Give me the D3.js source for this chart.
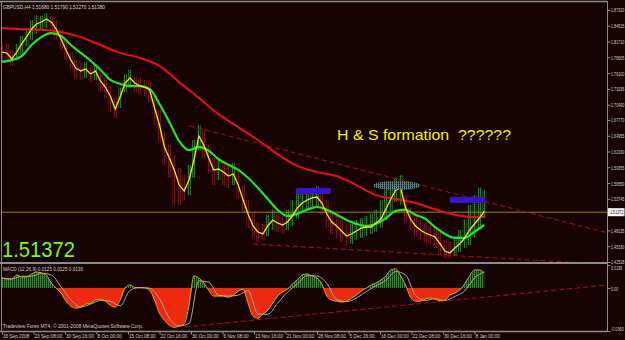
<!DOCTYPE html>
<html>
<head>
<meta charset="utf-8">
<script src="https://cdn.jsdelivr.net/npm/d3@7/dist/d3.min.js"></script>
<style>
body { margin: 0; background: #170303; overflow: hidden; }
text { font-family: "Liberation Sans", Arial, sans-serif; }
</style>
</head>
<body>
<div id="chart"></div>
<script>
// GBPUSD H4, sampled every 5 bars
var ma5 = [1.7985, 1.7968, 1.7861, 1.7985, 1.8128, 1.8252, 1.8394, 1.8483, 1.8519, 1.8572,
           1.8519, 1.8394, 1.8216, 1.8021, 1.7843, 1.7701, 1.7648, 1.7683, 1.7594, 1.7648,
           1.7470, 1.7363, 1.7203, 1.6972, 1.7185, 1.7434, 1.7523, 1.7434, 1.7381, 1.7363,
           1.7310, 1.6990, 1.6687, 1.6296, 1.6101, 1.5887, 1.5621, 1.5514, 1.5710, 1.6065,
           1.6492, 1.6332, 1.6101, 1.5887, 1.5905, 1.5852, 1.5781, 1.5816, 1.5621, 1.5354,
           1.5105, 1.4892, 1.4785, 1.4750, 1.4892, 1.4998, 1.4945, 1.4910, 1.4963, 1.5070,
           1.5212, 1.5301, 1.5354, 1.5390, 1.5407, 1.5301, 1.5105, 1.4963, 1.4892, 1.4803,
           1.4714, 1.4750, 1.4803, 1.4856, 1.4874, 1.4874, 1.4945, 1.5016, 1.5194, 1.5372,
           1.5532, 1.5567, 1.5212, 1.5016, 1.4892, 1.4821, 1.4767, 1.4732, 1.4696, 1.4572,
           1.4447, 1.4412, 1.4501, 1.4572, 1.4678, 1.4821, 1.4927, 1.5034, 1.5158];
var barHigh = [1.811, 1.813, 1.802, 1.813, 1.827, 1.841, 1.855, 1.864, 1.863, 1.868,
               1.863, 1.855, 1.838, 1.820, 1.799, 1.784, 1.779, 1.781, 1.774, 1.777,
               1.763, 1.752, 1.738, 1.717, 1.735, 1.759, 1.767, 1.756, 1.752, 1.749,
               1.745, 1.722, 1.695, 1.656, 1.633, 1.615, 1.592, 1.580, 1.598, 1.642,
               1.669, 1.660, 1.633, 1.610, 1.610, 1.603, 1.598, 1.601, 1.585, 1.562,
               1.535, 1.514, 1.496, 1.493, 1.509, 1.518, 1.514, 1.511, 1.518, 1.535,
               1.553, 1.557, 1.553, 1.557, 1.560, 1.550, 1.535, 1.518, 1.509, 1.500,
               1.491, 1.493, 1.500, 1.503, 1.507, 1.511, 1.518, 1.535, 1.553, 1.567,
               1.575, 1.580, 1.544, 1.521, 1.509, 1.500, 1.496, 1.491, 1.489, 1.479,
               1.464, 1.461, 1.471, 1.482, 1.500, 1.527, 1.544, 1.557, 1.553];
var barLow = [1.781, 1.781, 1.774, 1.784, 1.793, 1.809, 1.820, 1.831, 1.838, 1.841,
              1.834, 1.820, 1.802, 1.784, 1.767, 1.752, 1.749, 1.752, 1.745, 1.749,
              1.727, 1.717, 1.692, 1.681, 1.699, 1.727, 1.735, 1.727, 1.724, 1.720,
              1.710, 1.669, 1.639, 1.598, 1.575, 1.527, 1.527, 1.535, 1.544, 1.575,
              1.624, 1.610, 1.585, 1.562, 1.571, 1.562, 1.557, 1.562, 1.539, 1.514,
              1.486, 1.468, 1.461, 1.464, 1.471, 1.482, 1.479, 1.475, 1.482, 1.489,
              1.503, 1.514, 1.518, 1.521, 1.521, 1.509, 1.486, 1.475, 1.468, 1.461,
              1.454, 1.457, 1.464, 1.468, 1.471, 1.475, 1.479, 1.486, 1.500, 1.514,
              1.532, 1.527, 1.496, 1.482, 1.471, 1.464, 1.461, 1.455, 1.450, 1.438,
              1.432, 1.432, 1.436, 1.443, 1.450, 1.455, 1.468, 1.482, 1.503];
// every 10 bars
var ma50 = [1.781, 1.784, 1.791, 1.811, 1.825, 1.832, 1.827, 1.811, 1.797, 1.783,
            1.767, 1.749, 1.742, 1.738, 1.738, 1.733, 1.706, 1.674, 1.640, 1.624,
            1.630, 1.623, 1.608, 1.598, 1.589, 1.575, 1.557, 1.537, 1.518, 1.507,
            1.511, 1.518, 1.523, 1.518, 1.509, 1.500, 1.493, 1.489, 1.493, 1.503,
            1.516, 1.518, 1.509, 1.502, 1.487, 1.475, 1.468, 1.468, 1.479, 1.491];
// every 20 bars
var ma200 = [1.841, 1.839, 1.838, 1.834, 1.825, 1.811, 1.797, 1.788, 1.774, 1.745,
             1.717, 1.688, 1.665, 1.642, 1.617, 1.596, 1.585, 1.578, 1.562, 1.544,
             1.537, 1.530, 1.519, 1.509, 1.505, 1.505];
// MACD every 5 bars, signal every 10 bars
var macd = [0.0085, 0.0077, 0.0077, 0.0111, 0.0094, 0.0094, 0.0119, 0.0136, 0.0128, 0.0111,
            0.0043, 0.0000, -0.0043, -0.0111, -0.0153, -0.0170, -0.0162, -0.0136, -0.0128, -0.0102,
            -0.0094, -0.0111, -0.0145, -0.0162, -0.0102, 0.0000, 0.0026, 0.0004, 0.0002, 0.0001,
            -0.0017, -0.0102, -0.0213, -0.0272, -0.0315, -0.0332, -0.0323, -0.0306, -0.0145, 0.0102,
            0.0085, 0.0043, -0.0017, -0.0068, -0.0068, -0.0068, -0.0077, -0.0060, -0.0026, -0.0009,
            -0.0128, -0.0238, -0.0255, -0.0221, -0.0187, -0.0128, -0.0068, -0.0034, -0.0009, 0.0034,
            0.0068, 0.0111, 0.0119, 0.0102, 0.0085, 0.0034, -0.0068, -0.0102, -0.0111, -0.0119,
            -0.0111, -0.0085, -0.0060, -0.0026, 0.0000, 0.0026, 0.0043, 0.0068, 0.0102, 0.0153,
            0.0162, 0.0102, 0.0026, -0.0077, -0.0111, -0.0111, -0.0094, -0.0085, -0.0094, -0.0111,
            -0.0102, -0.0060, -0.0043, -0.0017, 0.0034, 0.0102, 0.0153, 0.0153, 0.0128];
var macdSignal = [0.0085, 0.0077, 0.0100, 0.0100, 0.0125, 0.0111, 0.0010, -0.0100, -0.0160, -0.0136,
                  -0.0105, -0.0111, -0.0150, -0.0020, 0.0005, 0.0000, -0.0090, -0.0255, -0.0320, -0.0300,
                  0.0060, 0.0050, -0.0060, -0.0068, -0.0060, -0.0020, -0.0220, -0.0221, -0.0128, -0.0034,
                  0.0034, 0.0105, 0.0102, 0.0040, -0.0095, -0.0115, -0.0085, -0.0030, 0.0020, 0.0065,
                  0.0140, 0.0110, -0.0060, -0.0105, -0.0090, -0.0105, -0.0070, -0.0025, 0.0085, 0.0136];

var dateLabels = ["16 Sep 2008", "23 Sep 08:00", "30 Sep 16:00", "8 Oct 00:00", "15 Oct 08:00",
                  "22 Oct 16:00", "30 Oct 00:00", "6 Nov 08:00", "13 Nov 16:00", "21 Nov 00:00",
                  "28 Nov 08:00", "5 Dec 16:00", "16 Dec 00:00", "22 Dec 08:00", "30 Dec 16:00", "8 Jan 00:00"];
var priceTicks = [1.87320, 1.84515, 1.81710, 1.78905, 1.76100, 1.73295, 1.70490, 1.67770,
                  1.64955, 1.62160, 1.59355, 1.56550, 1.53745, 1.48135, 1.45330, 1.42518];
var macdTicks = [0.0195, 0, -0.0363];
var macdTickLabels = ["0.0195", "0.00", "-0.0363"];
var quote = [1.51680, 1.51790, 1.51270, 1.51380];
var lastPrice = 1.51372;
var macdNow = [0.0125, 0.0125, 0.0136];
var lastBar = 490;

// objects drawn on the chart: [bar, price]
var trendUpper = [[191, 1.667], [615, 1.477]];
var trendLower = [[255, 1.4572], [608, 1.4216]];
var trendMacd = [[186, -0.0329], [615, 0.0026]];
var boxes = [[299, 334, 1.5568, 1.5461], [455, 491, 1.5408, 1.5301]];
var oval = [401, 1.5612, 24, 0.008];

var w = 625, h = 340;
var grey = "#8c8c8c";

var svg = d3.select("#chart").append("svg")
    .attr("width", w)
    .attr("height", h)
    .style("display", "block")
    .style("background", "#170303");

var x = d3.scaleLinear().domain([0, 32]).range([2, 33.5]);
var y = d3.scaleLinear().domain([1.42518, 1.87320]).range([262, 10]);
var ym = d3.scaleLinear().domain([-0.0363, 0.0195]).range([331, 265]);

function bars(arr, step) {
    return arr.map(function(v, i) { return [Math.min(i * step, lastBar), v]; });
}

var defs = svg.append("defs");
defs.append("clipPath").attr("id", "mainClip")
  .append("rect").attr("x", 2).attr("y", 2).attr("width", 605).attr("height", 260);
defs.append("clipPath").attr("id", "macdClip")
  .append("rect").attr("x", 2).attr("y", 264).attr("width", 605).attr("height", 67);
defs.append("clipPath").attr("id", "posClip")
  .append("rect").attr("x", 0).attr("y", 264).attr("width", 607).attr("height", ym(0) - 264);
defs.append("clipPath").attr("id", "negClip")
  .append("rect").attr("x", 0).attr("y", ym(0)).attr("width", 607).attr("height", 331 - ym(0));

function hatch(id, c1, c2) {
    var p = defs.append("pattern").attr("id", id)
      .attr("width", 2).attr("height", 2).attr("patternUnits", "userSpaceOnUse");
    p.append("rect").attr("width", 1).attr("height", 2).attr("fill", c1);
    p.append("rect").attr("x", 1).attr("width", 1).attr("height", 1).attr("fill", c2);
}
hatch("upBar", "#0f8c0f", "#073a07");
hatch("dnBar", "#8a0a0a", "#3c0303");
hatch("macdUp", "#0e9a0e", "#063806");
hatch("ovalDots", "#4f8a8e", "#284a50");

// borders
svg.append("line").attr("x1", 0).attr("x2", 607).attr("y1", 1.5).attr("y2", 1.5)
  .attr("stroke", grey).attr("stroke-width", 1.5);
svg.append("line").attr("x1", 1.5).attr("x2", 1.5).attr("y1", 1).attr("y2", 331)
  .attr("stroke", grey).attr("stroke-width", 1);
svg.append("line").attr("x1", 0).attr("x2", 607).attr("y1", 263).attr("y2", 263)
  .attr("stroke", grey).attr("stroke-width", 2);
svg.append("line").attr("x1", 0).attr("x2", 607).attr("y1", 331.5).attr("y2", 331.5)
  .attr("stroke", grey).attr("stroke-width", 1.5);
svg.append("line").attr("x1", 607.5).attr("x2", 607.5).attr("y1", 1).attr("y2", 332)
  .attr("stroke", grey).attr("stroke-width", 1);

var main = svg.append("g").attr("clip-path", "url(#mainClip)");

// price bars
main.selectAll("rect.bar").data(ma5).enter().append("rect")
  .attr("class", "bar")
  .attr("x", function(d, i) { return x(i * 5) - 1.8; })
  .attr("width", 3.6)
  .attr("y", function(d, i) { return y(barHigh[i]); })
  .attr("height", function(d, i) { return y(barLow[i]) - y(barHigh[i]); })
  .attr("fill", function(d, i) { return (i > 0 && d >= ma5[i - 1]) ? "url(#upBar)" : "url(#dnBar)"; });

// current price line
main.append("line").attr("x1", 2).attr("x2", 607)
  .attr("y1", y(lastPrice)).attr("y2", y(lastPrice))
  .attr("stroke", "#8f8a00").attr("stroke-width", 1);

// trendlines
[trendUpper, trendLower].forEach(function(t) {
    main.append("line")
      .attr("x1", x(t[0][0])).attr("y1", y(t[0][1]))
      .attr("x2", x(t[1][0])).attr("y2", y(t[1][1]))
      .attr("stroke", "#a01010").attr("stroke-width", 1)
      .attr("stroke-dasharray", "5,3");
});

var line = d3.line()
    .x(function(d) { return x(d[0]); })
    .y(function(d) { return y(d[1]); });

main.append("path").datum(bars(ma200, 20))
  .attr("d", line.curve(d3.curveMonotoneX))
  .attr("fill", "none").attr("stroke", "#e81010").attr("stroke-width", 2);
main.append("path").datum(bars(ma50, 10))
  .attr("d", line.curve(d3.curveMonotoneX))
  .attr("fill", "none").attr("stroke", "#22e622").attr("stroke-width", 2.2);
main.append("path").datum(bars(ma5, 5))
  .attr("d", line.curve(d3.curveLinear))
  .attr("fill", "none").attr("stroke", "#f0e81c").attr("stroke-width", 1.3);

// H&S objects
main.selectAll("rect.box").data(boxes).enter().append("rect")
  .attr("class", "box")
  .attr("x", function(d) { return x(d[0]); })
  .attr("width", function(d) { return x(d[1]) - x(d[0]); })
  .attr("y", function(d) { return y(d[2]); })
  .attr("height", function(d) { return y(d[3]) - y(d[2]); })
  .attr("fill", "#3514cc");
main.append("ellipse")
  .attr("cx", x(oval[0])).attr("cy", y(oval[1]))
  .attr("rx", x(oval[2]) - x(0)).attr("ry", y(oval[1] - oval[3]) - y(oval[1]))
  .attr("fill", "url(#ovalDots)");

// texts
function label(g, str, px, py, size, len, color) {
    return g.append("text").attr("x", px).attr("y", py)
      .attr("font-size", size).attr("fill", color)
      .attr("textLength", len).attr("lengthAdjust", "spacingAndGlyphs")
      .text(str);
}
label(svg, "GBPUSD,H4  " + quote.map(function(q) { return q.toFixed(5); }).join(" "),
      3, 8.5, 6, 102, "#d8d8d8");
svg.append("text").attr("x", 337).attr("y", 140)
  .attr("font-size", 15).attr("fill", "#f2f200")
  .attr("xml:space", "preserve")
  .attr("textLength", 174).attr("lengthAdjust", "spacingAndGlyphs")
  .text("H & S formation  ??????");
svg.append("text").attr("x", 2).attr("y", 257)
  .attr("font-size", 22.5).attr("fill", "#7cf81c")
  .attr("textLength", 73).attr("lengthAdjust", "spacingAndGlyphs")
  .text(lastPrice.toFixed(5));

// MACD panel
var macdPanel = svg.append("g").attr("clip-path", "url(#macdClip)");
var area = d3.area()
    .x(function(d) { return x(d[0]); })
    .y0(ym(0))
    .y1(function(d) { return ym(d[1]); });
macdPanel.append("path").datum(bars(macd, 5)).attr("d", area)
  .attr("fill", "url(#macdUp)").attr("clip-path", "url(#posClip)");
macdPanel.append("path").datum(bars(macd, 5)).attr("d", area)
  .attr("fill", "#ec2a10").attr("clip-path", "url(#negClip)");

var mline = d3.line()
    .x(function(d) { return x(d[0]); })
    .y(function(d) { return ym(d[1]); })
    .curve(d3.curveMonotoneX);
macdPanel.append("path").datum(bars(macdSignal, 10)).attr("d", mline)
  .attr("fill", "none").attr("stroke", "#a8a8a8").attr("stroke-width", 1);
macdPanel.append("path").datum(bars(macd, 5)).attr("d", mline)
  .attr("fill", "none").attr("stroke", "#d8b010").attr("stroke-width", 1);
macdPanel.append("line")
  .attr("x1", x(trendMacd[0][0])).attr("y1", ym(trendMacd[0][1]))
  .attr("x2", x(trendMacd[1][0])).attr("y2", ym(trendMacd[1][1]))
  .attr("stroke", "#a01010").attr("stroke-width", 1)
  .attr("stroke-dasharray", "5,3");

label(svg, "MACD (12,26,9) " + macdNow.map(function(v) { return v.toFixed(4); }).join(" "),
      3, 270.5, 6, 80, "#d0d0d0");
label(svg, "Tradeview Forex MT4, \u00a9 2001-2008 MetaQuotes Software Corp.",
      3, 328, 6, 140, "#d0d0d0");

// right price axis (narrow text: squeezed with a scale)
var yAxis = d3.axisRight(y).tickValues(priceTicks)
    .tickSize(3).tickFormat(d3.format(".5f"));
var ya = svg.append("g").attr("transform", "translate(607.5,0)").call(yAxis);
ya.select(".domain").remove();
ya.selectAll(".tick line").attr("stroke", grey);
ya.selectAll(".tick text")
  .attr("x", 0).attr("dy", "0.35em")
  .attr("font-size", 6).attr("fill", "#d0d0d0")
  .attr("transform", "translate(3.5,0) scale(0.62,0.92)");

// last price marker
svg.append("rect").attr("x", 608).attr("y", y(lastPrice) - 4)
  .attr("width", 16.5).attr("height", 8).attr("fill", "#ffffff");
svg.append("text")
  .attr("transform", "translate(610," + (y(lastPrice) + 2.2) + ") scale(0.62,0.92)")
  .attr("font-size", 6).attr("fill", "#000000")
  .text(lastPrice.toFixed(5));

var mAxis = d3.axisRight(ym).tickValues(macdTicks)
    .tickSize(3).tickFormat(function(d, i) { return macdTickLabels[i]; });
var ma = svg.append("g").attr("transform", "translate(607.5,0)").call(mAxis);
ma.select(".domain").remove();
ma.selectAll(".tick line").attr("stroke", grey);
ma.selectAll(".tick text")
  .attr("x", 0).attr("dy", "0.35em")
  .attr("font-size", 6).attr("fill", "#d0d0d0")
  .attr("transform", function(d) {
      var off = d === macdTicks[0] ? 3 : (d === macdTicks[2] ? -2 : 0);
      return "translate(3.5," + off + ") scale(0.62,0.92)";
  });

// time axis
var xAxis = d3.axisBottom(x).tickValues(d3.range(0, 32 * dateLabels.length, 32))
    .tickSize(3).tickFormat(function(d, i) { return dateLabels[i]; });
var xa = svg.append("g").attr("transform", "translate(0,331.5)").call(xAxis);
xa.select(".domain").remove();
xa.selectAll(".tick line").attr("stroke", grey);
xa.selectAll(".tick text")
  .attr("x", 0).attr("y", 0).attr("dy", "0.71em")
  .attr("text-anchor", "start")
  .attr("font-size", 6).attr("fill", "#d0d0d0")
  .attr("transform", "translate(0.5,2.6) scale(0.78,0.88)");
</script>
</body>
</html>
